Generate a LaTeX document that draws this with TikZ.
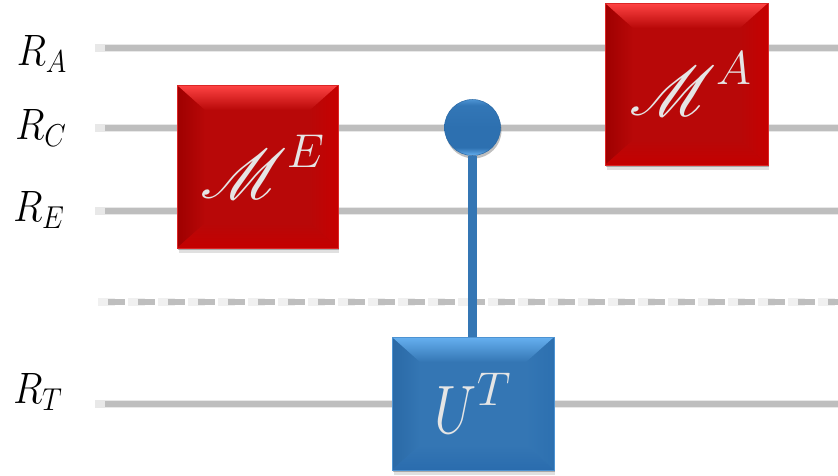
\RequirePackage{fix-cm}
\documentclass[tikz,border=0pt]{standalone}
\usepackage{mathrsfs}
\usetikzlibrary{calc,shadows}

\DeclareMathSizes{39}{39}{27}{20}
\DeclareMathSizes{25}{25}{18}{14}

\definecolor{wiregray}{HTML}{BEBEBE}
\definecolor{redmain}{HTML}{B80808}
\definecolor{redtop}{HTML}{FF4444}
\definecolor{redleft}{HTML}{9E0000}
\definecolor{redright}{HTML}{C60000}
\definecolor{redbottom}{HTML}{C40000}
\definecolor{bluemain}{HTML}{3476B4}
\definecolor{bluetop}{HTML}{66B0F0}
\definecolor{blueleft}{HTML}{2A69A6}
\definecolor{blueright}{HTML}{2D70B0}
\definecolor{bluebottom}{HTML}{2A6CAE}

\pgfdeclareverticalshading{ballshade}{100bp}{
  color(0bp)=(bluetop); color(25bp)=(bluetop); color(32bp)=(blueright);
  color(50bp)=(blueright); color(70bp)=(blueright!90!bluetop); color(75bp)=(bluetop!55!blueright); color(100bp)=(bluetop!55!blueright)}

\newcommand{\bigM}{\scalebox{1.6}{$\mathscr{M}$}}
\newcommand{\regname}[1]{\scalebox{0.88}[1]{$#1$}}

\tikzset{
  wire/.style={wiregray, line width=3pt,
    preaction={draw, black!9, line width=5pt, shorten <=-0.2cm}},
  dashwire/.style={wiregray, line width=3pt, dash pattern=on 0.34cm off 0.26cm,
    preaction={draw, black!6, line width=5pt, dash pattern=on 0.34cm off 0.26cm, shorten <=-0.2cm}},
  reglabel/.style={font=\fontsize{25}{30}\selectfont},
  gatebox/.style n args={5}{rectangle, inner sep=0pt, text=white!90!black,
    font=\fontsize{39}{46}\selectfont, fill=#1, draw=#2!50!#1, line width=0.4pt,
    general shadow={shadow xshift=0.03cm, shadow yshift=-0.1cm, fill=black, opacity=0.12},
    general shadow={shadow xshift=0.02cm, shadow yshift=-0.05cm, fill=black, opacity=0.25},
    path picture={
      \coordinate (nw) at (path picture bounding box.north west);
      \coordinate (ne) at (path picture bounding box.north east);
      \coordinate (sw) at (path picture bounding box.south west);
      \coordinate (se) at (path picture bounding box.south east);
      \coordinate (inw) at ($(nw)+(0.56cm,-0.5cm)$);
      \coordinate (ine) at ($(ne)+(-0.56cm,-0.5cm)$);
      \coordinate (isw) at ($(sw)+(0.56cm,0.5cm)$);
      \coordinate (ise) at ($(se)+(-0.56cm,0.5cm)$);
      \shade[left color=#3, right color=#1] (nw) -- (inw) -- (isw) -- (sw) -- cycle;
      \shade[left color=#1, right color=#4] (ne) -- (ine) -- (ise) -- (se) -- cycle;
      \shade[top color=#1, bottom color=#5] (sw) -- (isw) -- (ise) -- (se) -- cycle;
      \shade[top color=#2, middle color=#2!25!#1, bottom color=#1] (nw) -- (inw) -- (ine) -- (ne) -- cycle;
    }},
  redgate/.style={gatebox={redmain}{redtop}{redleft}{redright}{redbottom}},
  bluegate/.style={gatebox={bluemain}{bluetop}{blueleft}{blueright}{bluebottom}},
  ctrlball/.style={circle, inner sep=0pt, minimum size=1.12cm, draw=blueleft, line width=0.3pt,
    shading=ballshade,
    general shadow={shadow xshift=0.02cm, shadow yshift=-0.06cm, fill=black, opacity=0.25}},
  stem/.style={bluemain, line width=5pt}
}

\begin{document}
\begin{tikzpicture}[x=0.02cm, y=-0.02cm]
\useasboundingbox (0,0) rectangle (838,476);

% Wires
\coordinate (ra0) at (105,48);
\coordinate (ra1) at (838,48);
\coordinate (rc0) at (105,128);
\coordinate (rc1) at (838,128);
\coordinate (re0) at (105,211);
\coordinate (re1) at (838,211);
\coordinate (cut0) at (108,302);
\coordinate (cut1) at (838,302);
\coordinate (rt0) at (105,404);
\coordinate (rt1) at (838,404);
\draw[wire] (ra0) -- (ra1);
\draw[wire] (rc0) -- (rc1);
\draw[wire] (re0) -- (re1);
\draw[dashwire] (cut0) -- (cut1);
\draw[wire] (rt0) -- (rt1);

% Register labels
\node[reglabel] (la) at (42,54) {\regname{R_A}};
\node[reglabel] (lc) at (41,128) {\regname{R_C}};
\node[reglabel] (le) at (39,210) {\regname{R_E}};
\node[reglabel] (lt) at (38,392) {\regname{R_T}};

% Gates
\node[redgate, minimum width=3.22cm, minimum height=3.26cm] (me) at (257.5,166.5) {\hspace{0.2cm}${\bigM}^{E}$};
\node[redgate, minimum width=3.26cm, minimum height=3.24cm] (ma) at (686.5,84) {\hspace{0.16cm}${\bigM}^{A}$};
\node[bluegate, minimum width=3.24cm, minimum height=2.66cm] (ut) at (473,403.5) {$\scalebox{0.8}[1]{$U$}^{T}$};

% Controlled line
\node[ctrlball] (ctrl) at (472.5,127.5) {};
\draw[stem] (ctrl.south) -- (ctrl.south |- ut.north);

\end{tikzpicture}
\end{document}
